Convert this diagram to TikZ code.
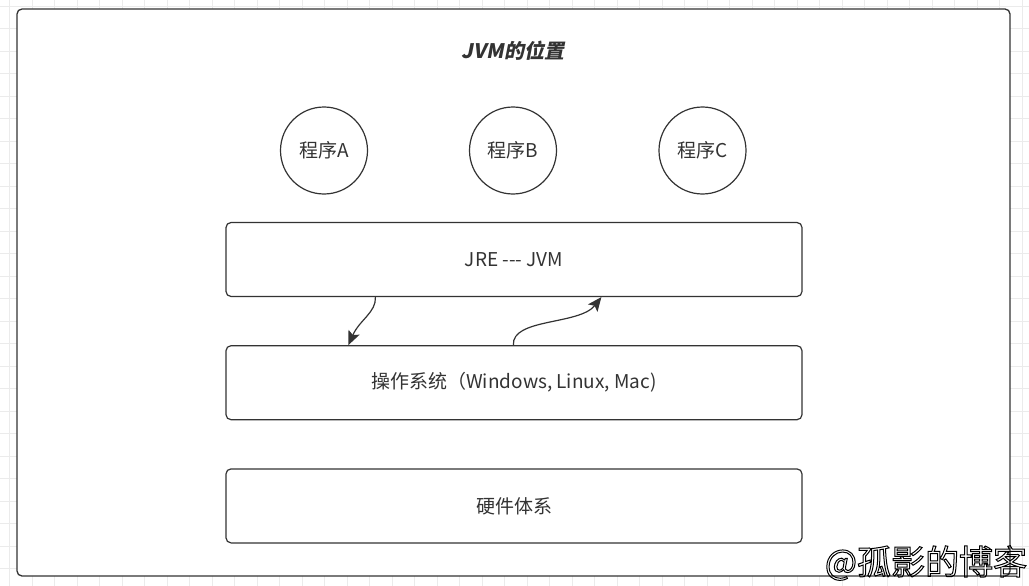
\documentclass[tikz,border=0pt]{standalone}
\usepackage{fontspec}
\setmainfont{Noto Sans CJK SC}
\newfontfamily\titlefont[FakeSlant=0.2]{Noto Sans CJK SC}
\usetikzlibrary{arrows.meta, positioning}
\definecolor{linegray}{HTML}{333333}
\definecolor{gridgray}{HTML}{EBEBEB}
\newcommand{\outlinetext}[1]{\special{pdf:literal direct 1 Tr 1 w}#1\special{pdf:literal direct 0 Tr}}

\begin{document}
\begin{tikzpicture}[x=1pt, y=-1pt,
    layer/.style={draw=linegray, line width=1.2pt, rounded corners=5pt, minimum width=576pt, minimum height=74pt, font=\fontsize{19}{23}\selectfont, text=linegray},
    prog/.style={draw=linegray, line width=1.2pt, circle, minimum size=87pt, inner sep=0pt, font=\fontsize{19}{23}\selectfont, text=linegray},
    flow/.style={draw=linegray, line width=1.2pt, -{Stealth[length=14pt, width=12pt, inset=3pt]}}
]
    \useasboundingbox (0,0) rectangle (1029,586);

    % Background grid
    \foreach \x in {9.5,32,...,1029} \draw[gridgray, line width=0.8pt] (\x,0) -- (\x,586);
    \foreach \y in {6,28.5,...,586} \draw[gridgray, line width=0.8pt] (0,\y) -- (1029,\y);

    % Outer frame and title
    \draw[linegray, line width=1.3pt, fill=white, rounded corners=5pt] (17,9) rectangle (1010,576);
    \node[text=linegray, font=\titlefont\bfseries\fontsize{20}{24}\selectfont] (title) at (513,51) {JVM的位置};

    % Programs
    \node[prog] (progA) at (324,150.5) {程序A};
    \node[prog] (progB) at (513,150.5) {程序B};
    \node[prog] (progC) at (702.5,150.5) {程序C};

    % Layers
    \node[layer] (jre) at (514,259.5) {JRE -{}-{}- JVM};
    \node[layer, below=48pt of jre] (os) {操作系统（Windows, Linux, Mac)};
    \node[layer, below=48pt of os] (hw) {硬件体系};

    % Calls between JVM and OS
    \draw[flow] ([xshift=150pt]jre.south west) .. controls +(1,15) and +(11,-25) .. ([xshift=123pt]os.north west);
    \draw[flow] ([xshift=288pt]os.north west) .. controls +(-2,-27) and +(-22,28) .. ([xshift=376pt]jre.south west);

    % Watermark
    \node[font=\fontsize{34}{40}\selectfont, text=black] (mark) at (926,563) {\outlinetext{@孤影的博客}};
\end{tikzpicture}
\end{document}
